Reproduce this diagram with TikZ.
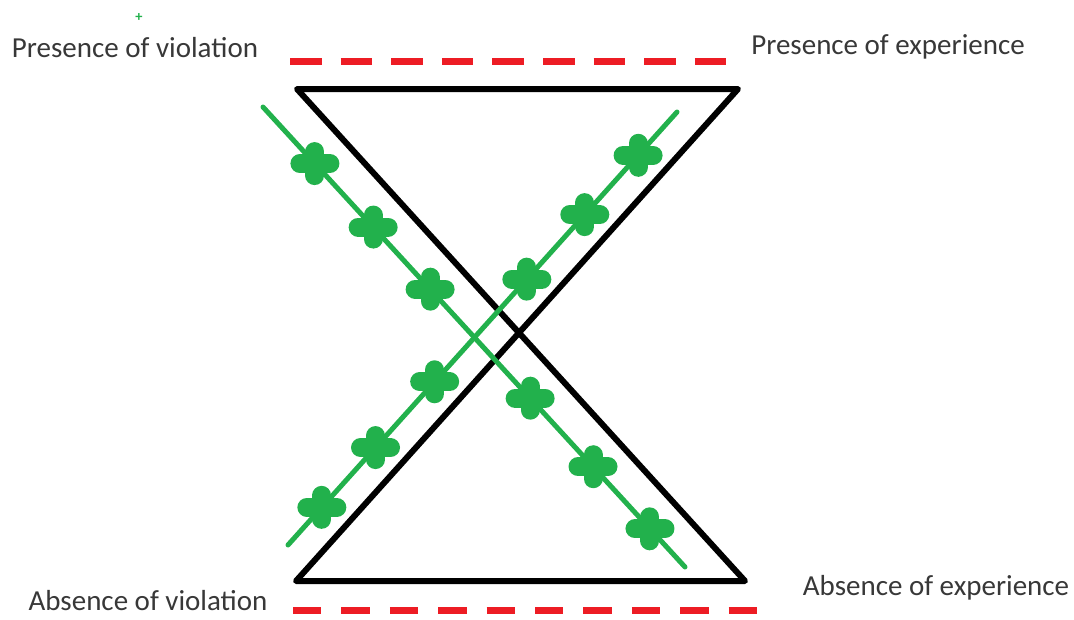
\documentclass[tikz,border=0pt]{standalone}
\usepackage{fontspec}
\setmainfont{Carlito}
\usetikzlibrary{calc}
\definecolor{leafgreen}{RGB}{34,177,76}
\definecolor{dashred}{RGB}{237,28,36}

\begin{document}
\begin{tikzpicture}[x=1pt,y=-1pt,
	label node/.style={font=\fontsize{29}{34}\selectfont,text=black!78,inner sep=0pt},
	hourglass/.style={draw=black,line width=6pt,line join=round},
	green line/.style={draw=leafgreen,line width=5pt,line cap=round},
	red dash/.style={draw=dashred,line width=7pt},
	cross arm/.style={draw=leafgreen,line width=19pt,line cap=round}]

	\useasboundingbox (0,0) rectangle (1074,619);

	% corners of the hourglass
	\coordinate (tl) at (297,89);
	\coordinate (tr) at (738,89);
	\coordinate (bl) at (296,581);
	\coordinate (br) at (745,581);

	% ends of the two green lines
	\coordinate (down a) at (263,107);
	\coordinate (down b) at (685,567);
	\coordinate (up a) at (288,545);
	\coordinate (up b) at (677,112);

	% ends of the red dashed lines
	\coordinate (top a) at (290,61);
	\coordinate (top b) at (726,61);
	\coordinate (bot a) at (293,610);
	\coordinate (bot b) at (757,610);

	\node[label node] (pv) at (135,48) {Presence of violation};
	\node[label node] (pe) at (888,47) {Presence of experience};
	\node[label node] (av) at (148,601) {Absence of violation};
	\node[label node] (ae) at (936,588) {Absence of experience};
	\node[text=leafgreen,font=\bfseries\Large,inner sep=0pt] (dot) at (139,18) {+};

	\draw[red dash,dash pattern=on 31.6pt off 19pt] (top a) -- (top b);
	\draw[red dash,dash pattern=on 28.4pt off 20pt] (bot a) -- (bot b);

	\draw[hourglass] (tl) -- (tr) -- (bl) -- (br) -- cycle;

	\draw[green line] (down a) -- (down b);
	\draw[green line] (up a) -- (up b);

	% crosses on the green lines
	\foreach \t in {0.123,0.261,0.396,0.633,0.782,0.917}{
		\coordinate (c) at ($(down a)!\t!(down b)$);
		\draw[cross arm] ($(c)+(-15,0)$) -- ($(c)+(15,0)$);
		\draw[cross arm] ($(c)+(0,-12)$) -- ($(c)+(0,12)$);
		\fill[leafgreen] ($(c)+(-17,0)$) -- ($(c)+(0,-16)$) -- ($(c)+(17,0)$) -- ($(c)+(0,16)$) -- cycle;
	}
	\foreach \t in {0.087,0.225,0.377,0.614,0.763,0.9}{
		\coordinate (c) at ($(up a)!\t!(up b)$);
		\draw[cross arm] ($(c)+(-15,0)$) -- ($(c)+(15,0)$);
		\draw[cross arm] ($(c)+(0,-12)$) -- ($(c)+(0,12)$);
		\fill[leafgreen] ($(c)+(-17,0)$) -- ($(c)+(0,-16)$) -- ($(c)+(17,0)$) -- ($(c)+(0,16)$) -- cycle;
	}

\end{tikzpicture}
\end{document}
